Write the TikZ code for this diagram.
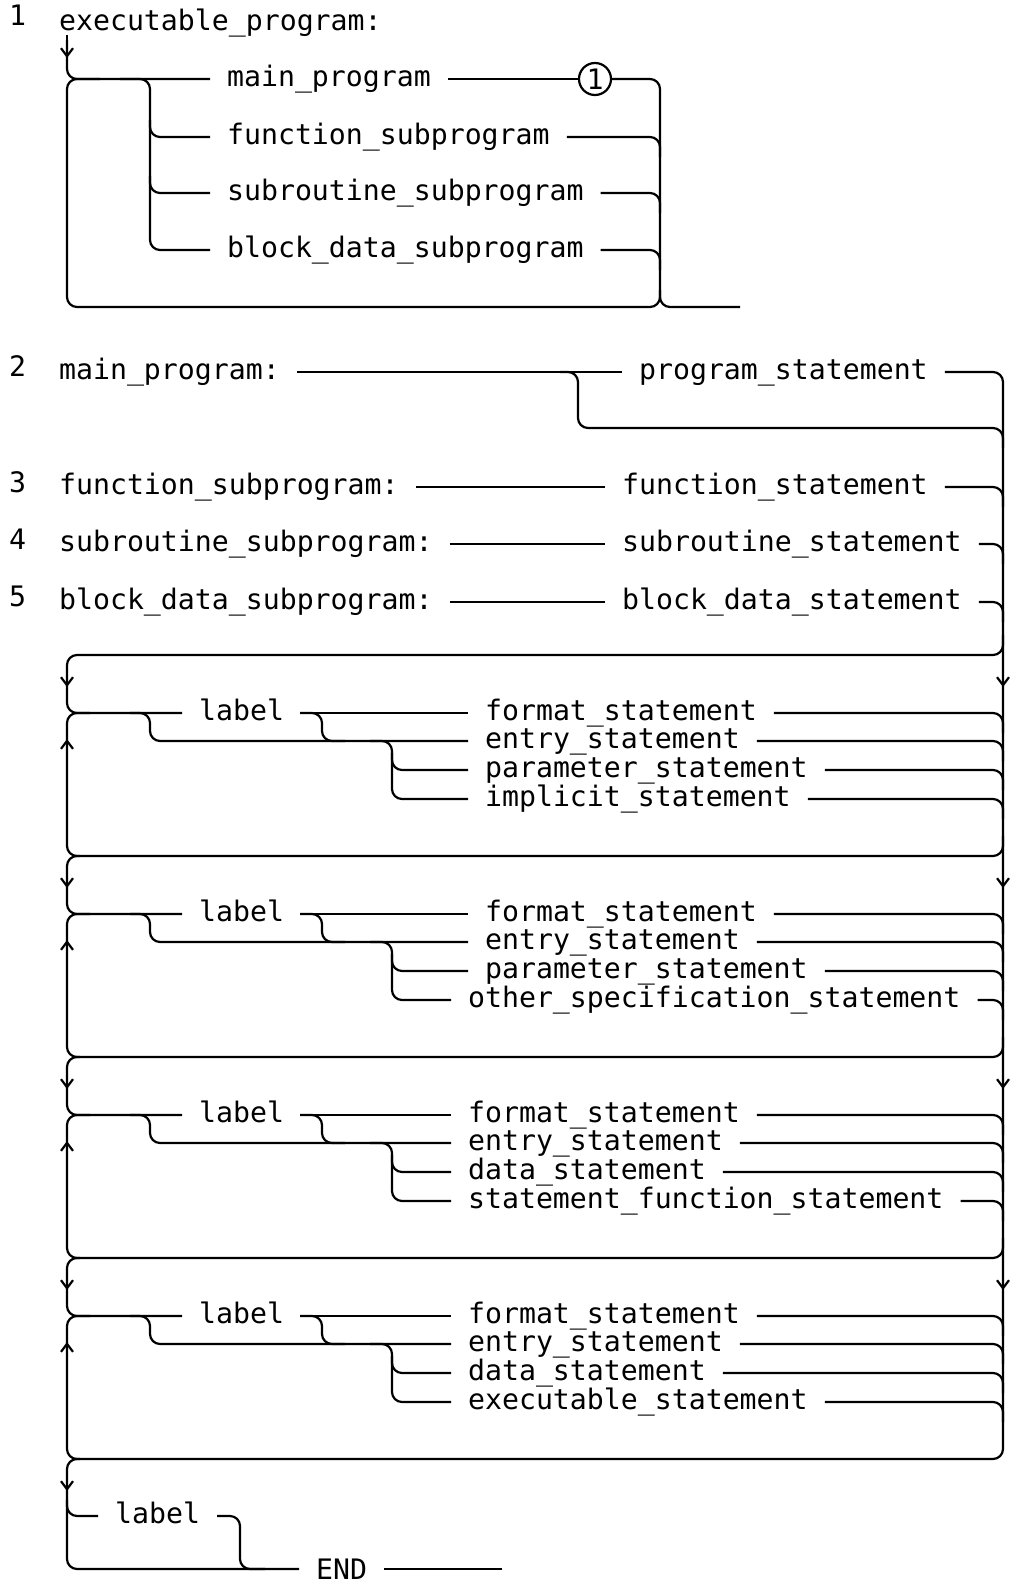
\documentclass[tikz,border=0pt]{standalone}
\usepackage{fontspec}
\newfontfamily\plotfont{DejaVu Sans Mono}
\usetikzlibrary{arrows.meta}
\tikzset{
  plot/.style={font=\plotfont\fontsize{14.1}{17}\selectfont},
  syn/.style={plot, anchor=mid west, inner xsep=8pt, inner ysep=0pt},
  num/.style={plot, anchor=base west, inner sep=0pt},
  arr/.style={-{Straight Barb[length=4pt,width=6pt]}},
  refcirc/.style={plot, draw, circle, inner sep=0pt, minimum size=16pt},
}
\begin{document}
\plotfont\fontsize{14.1}{17}\selectfont
\begin{tikzpicture}[x=0.5pt, y=-0.5pt, line width=1.1pt, rounded corners=5pt]
  \useasboundingbox (0,0) rectangle (1009,1585);
  % 1 executable_program
  \node[num] (n1) at (8,25) {1};
  \node[num] (title1) at (58,30) {executable\_program:};
  \node[syn] (mainp) at (210,79) {main\_program};
  \node[syn] (fsub) at (210,137) {function\_subprogram};
  \node[syn] (ssub) at (210,193) {subroutine\_subprogram};
  \node[syn] (bsub) at (210,250) {block\_data\_subprogram};
  \node[refcirc] (ref1) at (595,79) {1};
  \coordinate (out1) at (740,307);
  \draw[arr] (67,35) -- (67,58);
  \draw (67,40) -- (67,79) -- (mainp.mid west);
  \draw (120,79) -- (150,79) -- (150,250) -- (bsub.mid west);
  \draw (150,120) -- (150,137) -- (fsub.mid west);
  \draw (150,176) -- (150,193) -- (ssub.mid west);
  \draw (mainp.mid east) -- (ref1);
  \draw (ref1) -- (660,79) -- (660,307) -- (out1);
  \draw (fsub.mid east) -- (660,137) -- (660,157);
  \draw (ssub.mid east) -- (660,193) -- (660,213);
  \draw (bsub.mid east) -- (660,250) -- (660,270);
  \draw (660,290) -- (660,307) -- (67,307) -- (67,79) -- (100,79);
  % 2 to 5 program units
  \node[num] (n2) at (8,376) {2};
  \node[syn] (mprog) at (42,372) {main\_program:};
  \node[syn] (prog) at (622,372) {program\_statement};
  \node[num] (n3) at (8,492) {3};
  \node[syn] (fprog) at (42,487) {function\_subprogram:};
  \node[syn] (fstmt) at (605,487) {function\_statement};
  \node[num] (n4) at (8,549) {4};
  \node[syn] (sprog) at (42,544) {subroutine\_subprogram:};
  \node[syn] (sstmt) at (605,544) {subroutine\_statement};
  \node[num] (n5) at (8,606) {5};
  \node[syn] (bprog) at (42,602) {block\_data\_subprogram:};
  \node[syn] (bstmt) at (605,602) {block\_data\_statement};
  \node[syn] (lblE) at (98,1516) {label};
  \node[syn, anchor=west] (endkw) at (299,1569) {END};
  \coordinate (exit) at (502,1569);
  \draw (mprog.mid east) -- (prog.mid west);
  \draw (560,372) -- (578,372) -- (578,428) -- (1003,428) -- (1003,448);
  \draw (prog.mid east) -- (1003,372) -- (1003,1459) -- (67,1459) -- (67,1516) -- (lblE.mid west);
  \draw (fprog.mid east) -- (fstmt.mid west);
  \draw (fstmt.mid east) -- (1003,487) -- (1003,507);
  \draw (sprog.mid east) -- (sstmt.mid west);
  \draw (sstmt.mid east) -- (1003,544) -- (1003,564);
  \draw (bprog.mid east) -- (bstmt.mid west);
  \draw (bstmt.mid east) -- (1003,602) -- (1003,622);
  % statement groups
  \foreach \bk/\tp/\xa/\xd/\third/\fourth in {
      A/655/468/468/parameter/implicit,
      B/856/468/451/parameter/other\_specification,
      C/1057/451/451/data/statement\_function,
      D/1258/451/451/data/executable}{
    \pgfmathsetmacro{\ya}{\tp+58}
    \pgfmathsetmacro{\yb}{\tp+86}
    \pgfmathsetmacro{\yc}{\tp+115}
    \pgfmathsetmacro{\yd}{\tp+144}
    \pgfmathsetmacro{\yz}{\tp+201}
    \node[syn] (lbl\bk) at (182,\ya) {label};
    \node[syn] (fmt\bk) at (\xa,\ya) {format\_statement};
    \node[syn] (ent\bk) at (\xa,\yb) {entry\_statement};
    \node[syn] (thd\bk) at (\xa,\yc) {\third\_statement};
    \node[syn] (fth\bk) at (\xd,\yd) {\fourth\_statement};
    \draw (1003,\tp-20) -- (1003,\tp) -- (67,\tp) -- (67,\ya) -- (lbl\bk.mid west);
    \draw[arr] (67,\tp+12) -- (67,\tp+32);
    \draw[arr] (1003,\tp+12) -- (1003,\tp+32);
    \draw (80,\yz) -- (67,\yz) -- (67,\ya) -- (90,\ya);
    \draw[arr] (67,\ya+42) -- (67,\ya+26);
    \draw (lbl\bk.mid east) -- (fmt\bk.mid west);
    \draw (130,\ya) -- (150,\ya) -- (150,\yb) -- (ent\bk.mid west);
    \draw (300,\ya) -- (322,\ya) -- (322,\yb) -- (345,\yb);
    \draw (370,\yb) -- (392,\yb) -- (392,\yd) -- (fth\bk.mid west);
    \draw (392,\yc-17) -- (392,\yc) -- (thd\bk.mid west);
    \draw (fmt\bk.mid east) -- (1003,\ya) -- (1003,\ya+20);
    \draw (ent\bk.mid east) -- (1003,\yb) -- (1003,\yb+20);
    \draw (thd\bk.mid east) -- (1003,\yc) -- (1003,\yc+20);
    \draw (fth\bk.mid east) -- (1003,\yd) -- (1003,\yd+20);
  }
  % END
  \draw[arr] (67,1471) -- (67,1491);
  \draw (67,1500) -- (67,1569) -- (endkw.west);
  \draw (lblE.mid east) -- (240,1516) -- (240,1569) -- (265,1569);
  \draw (endkw.east) -- (exit);
\end{tikzpicture}
\end{document}
